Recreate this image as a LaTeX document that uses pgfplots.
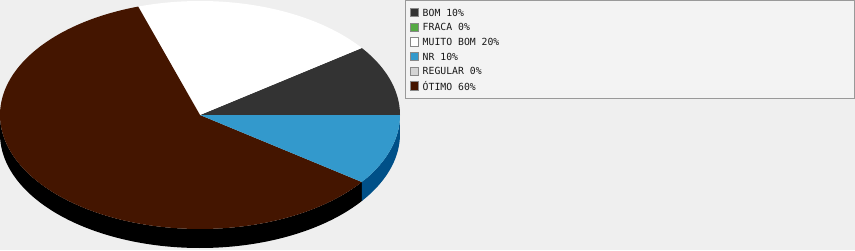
\documentclass[border=0pt]{standalone}
\usepackage{pgfplots}
\usepackage{pgfplotstable}
\pgfplotsset{compat=1.18}
\usepackage{fontspec}
\newfontfamily\legendfont{DejaVu Sans Mono}

\definecolor{pagebg}{HTML}{EFEFEF}
\definecolor{legbg}{HTML}{F3F3F3}
\definecolor{legborder}{HTML}{999999}
\definecolor{swborder}{HTML}{888888}
\definecolor{cbom}{HTML}{333333}
\definecolor{cfraca}{HTML}{55AA44}
\definecolor{cmuito}{HTML}{FFFFFF}
\definecolor{cnr}{HTML}{3399CC}
\definecolor{cnrside}{HTML}{005088}
\definecolor{cregular}{HTML}{D3D3D3}
\definecolor{cotimo}{HTML}{441500}
\definecolor{cotimoside}{HTML}{000000}

% slice shares in drawing order (counter-clockwise from 0 deg):
% BOM, MUITO BOM, OTIMO, NR  (FRACA and REGULAR are 0%)
\pgfplotstableread{
value
10
20
60
10
}\slices

\begin{document}
\begin{tikzpicture}
\pgfplotstablegetelem{0}{value}\of\slices \let\vA\pgfplotsretval
\pgfplotstablegetelem{1}{value}\of\slices \let\vB\pgfplotsretval
\pgfplotstablegetelem{2}{value}\of\slices \let\vC\pgfplotsretval
\pgfplotstablegetelem{3}{value}\of\slices \let\vD\pgfplotsretval
\pgfmathsetmacro\angA{0}
\pgfmathsetmacro\angB{\angA+3.6*\vA}
\pgfmathsetmacro\angC{\angB+3.6*\vB}
\pgfmathsetmacro\angD{\angC+3.6*\vC}
\pgfmathsetmacro\angE{\angD+3.6*\vD}
\pgfmathsetmacro\sideStart{max(180,\angC)}
% the dark wall runs a little past its edge so no seam shows under the next wall
\pgfmathsetmacro\sideEnd{\angD+1}
\begin{axis}[
  width=855pt, height=250pt, scale only axis,
  xmin=0, xmax=855, ymin=0, ymax=250,
  hide axis, no markers, clip=true,
]
% background
\fill[pagebg] (axis cs:0,0) rectangle (axis cs:855,250);

% pie geometry: centre (200,135), radii 200 x 114, depth 19
\def\cx{200}\def\cy{135}\def\rx{200}\def\ry{114}\def\dep{19}

% side walls of the front half
\addplot[fill=cotimoside, draw=none, domain=0:2, samples=401, variable=\t]
  ({\cx+\rx*cos(\t<=1 ? \sideStart+(\sideEnd-\sideStart)*\t : \sideEnd-(\sideEnd-\sideStart)*(\t-1))},
   {(\t<=1 ? \cy : \cy-\dep)+\ry*sin(\t<=1 ? \sideStart+(\sideEnd-\sideStart)*\t : \sideEnd-(\sideEnd-\sideStart)*(\t-1))}) -- cycle;
\addplot[fill=cnrside, draw=none, domain=0:2, samples=201, variable=\t]
  ({\cx+\rx*cos(\t<=1 ? \angD+(\angE-\angD)*\t : \angE-(\angE-\angD)*(\t-1))},
   {(\t<=1 ? \cy : \cy-\dep)+\ry*sin(\t<=1 ? \angD+(\angE-\angD)*\t : \angE-(\angE-\angD)*(\t-1))}) -- cycle;

% top faces
\addplot[fill=cbom, draw=none, domain=\angA:\angB, samples=60, variable=\t]
  ({\cx+\rx*cos(\t)},{\cy+\ry*sin(\t)}) -- (axis cs:\cx,\cy) -- cycle;
\addplot[fill=cmuito, draw=none, domain=\angB:\angC, samples=80, variable=\t]
  ({\cx+\rx*cos(\t)},{\cy+\ry*sin(\t)}) -- (axis cs:\cx,\cy) -- cycle;
\addplot[fill=cotimo, draw=none, domain=\angC:\angD, samples=200, variable=\t]
  ({\cx+\rx*cos(\t)},{\cy+\ry*sin(\t)}) -- (axis cs:\cx,\cy) -- cycle;
\addplot[fill=cnr, draw=none, domain=\angD:\angE, samples=60, variable=\t]
  ({\cx+\rx*cos(\t)},{\cy+\ry*sin(\t)}) -- (axis cs:\cx,\cy) -- cycle;
\end{axis}

% legend box (the axis spans 1pt per unit from the origin)
\draw[legborder, fill=legbg, line width=1pt] (405.5pt,249.5pt) rectangle (854.5pt,152pt);
\foreach \col/\txt [count=\i from 0] in {cbom/BOM 10\%, cfraca/FRACA 0\%, cmuito/MUITO BOM 20\%, cnr/NR 10\%, cregular/REGULAR 0\%, cotimo/ÓTIMO 60\%}{
  \pgfmathsetmacro\yy{250-(12.5+14.7*\i)}
  \draw[swborder, fill=\col, line width=0.9pt] (410pt,\yy pt-4.2pt) rectangle (418.5pt,\yy pt+4.2pt);
  \node[anchor=west, inner sep=0pt, text=black!90, font=\legendfont\fontsize{9.8}{10}\selectfont]
    at (422.5pt,\yy pt) {\txt};
}
\end{tikzpicture}
\end{document}
